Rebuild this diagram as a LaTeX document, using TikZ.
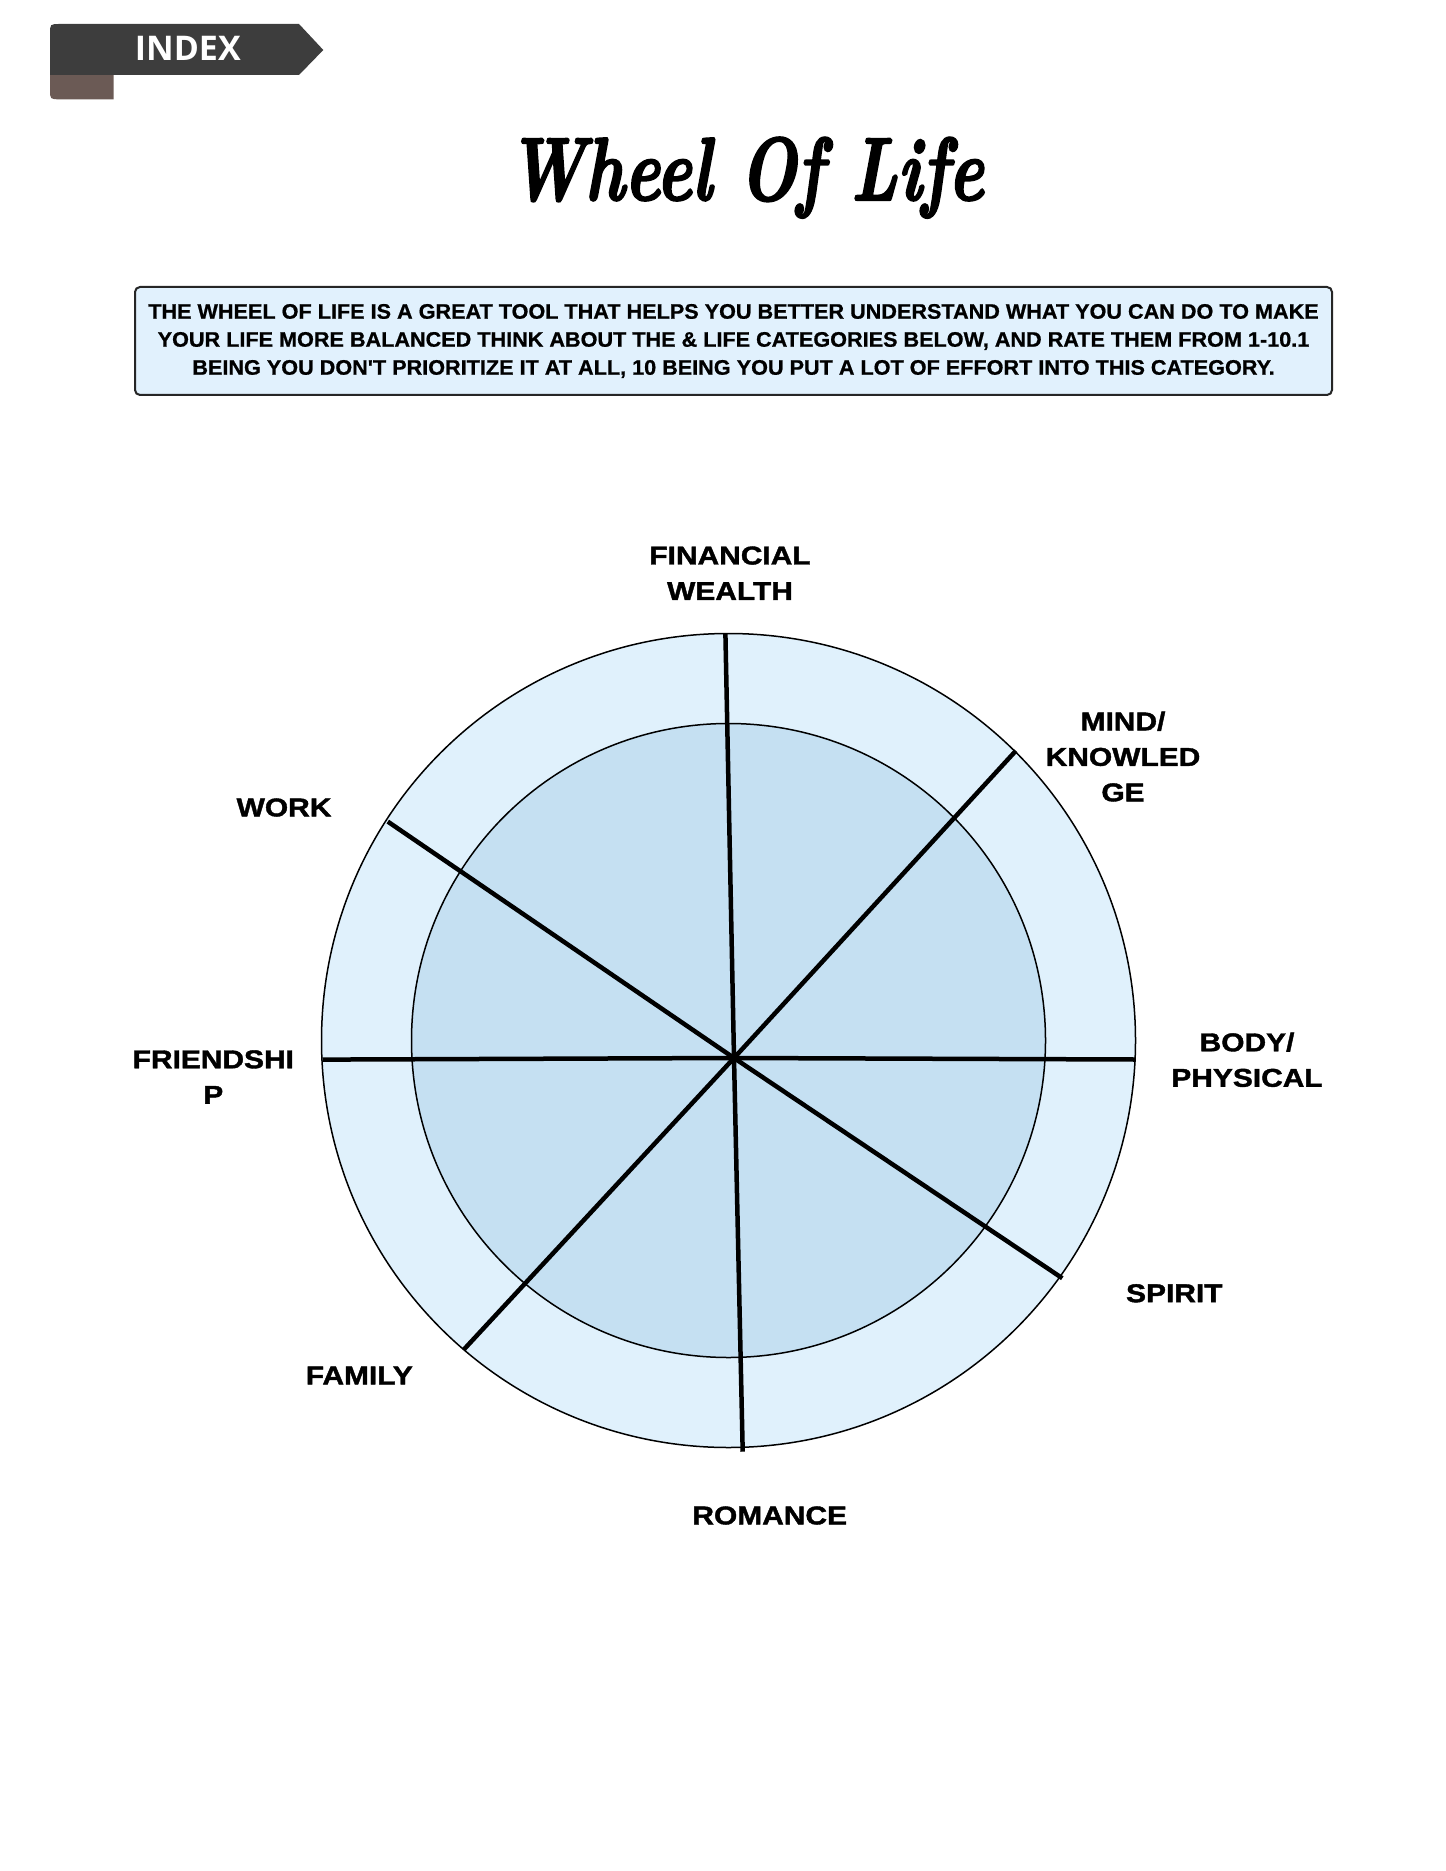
\documentclass[tikz,border=0pt]{standalone}
\usepackage{fontspec}
\usepackage{tikz}
\newfontfamily\catfont[FakeStretch=1.16, FakeBold=1.5]{Liberation Sans}
\newfontfamily\descfont[FakeStretch=1.03, FakeBold=0.8]{Liberation Sans}
\newfontfamily\tabfont{Open Sans}
\newfontfamily\titlefont[FakeBold=2.5]{Latin Modern Roman}
\definecolor{ringblue}{RGB}{224,241,252}
\definecolor{coreblue}{RGB}{197,224,242}
\definecolor{boxblue}{RGB}{225,241,253}
\definecolor{tabdark}{RGB}{61,61,61}
\definecolor{tabbrown}{RGB}{107,90,85}
\tikzstyle{cat}=[inner sep=0pt, align=center, font=\catfont\bfseries\fontsize{12.9pt}{17.75pt}\selectfont]
\tikzstyle{spoke}=[line width=2.25pt]
\tikzstyle{rim}=[draw=black, line width=0.75pt]

\begin{document}
\begin{tikzpicture}[x=0.5pt, y=-0.5pt]
            \useasboundingbox (0,0) rectangle (1445,1871);
            % index tab
            \fill[tabbrown] (50,75) -- (113.7,75) -- (113.7,99.3) -- (60,99.3) .. controls (50,99.3) .. (50,89.3) -- cycle;
            \fill[tabdark] (50,75) -- (50,34) .. controls (50,24) .. (60,24) -- (299,24) -- (323.3,50) -- (299,75) -- cycle;
            \node [text=white, inner sep=0pt, font=\tabfont\bfseries\fontsize{17pt}{17pt}\selectfont] (tab) at (187.8,48.8) {INDEX};
            % title and text box
            \node [anchor=base, inner sep=0pt, font=\titlefont\fontsize{44.6pt}{50pt}\selectfont\bfseries\itshape] (title) at (745.6,200) {\scalebox{0.75}[1]{Wheel Of Life}};
            \node [draw=black!85, line width=1pt, fill=boxblue, rounded corners=2.5pt, minimum width=598.5pt, minimum height=54pt, inner sep=0pt, align=center, font=\descfont\bfseries\fontsize{10.5pt}{14pt}\selectfont] (desc) at (733.5,341) {THE WHEEL OF LIFE IS A GREAT TOOL THAT HELPS YOU BETTER UNDERSTAND WHAT YOU CAN DO TO MAKE\\YOUR LIFE MORE BALANCED THINK ABOUT THE \& LIFE CATEGORIES BELOW, AND RATE THEM FROM 1-10.1\\BEING YOU DON'T PRIORITIZE IT AT ALL, 10 BEING YOU PUT A LOT OF EFFORT INTO THIS CATEGORY.};
            % wheel
            \coordinate (mid) at (728.5,1040.5);
            \filldraw [rim, fill=ringblue] (mid) circle [radius=203.5pt];
            \filldraw [rim, fill=coreblue] (mid) circle [radius=158.5pt];
            \coordinate (hub) at (734,1058);
            \coordinate (finEnd) at (725.4,633.7);
            \coordinate (mindEnd) at (1015.8,750.8);
            \coordinate (bodyEnd) at (1135.5,1059.5);
            \coordinate (spiritEnd) at (1062.3,1278.2);
            \coordinate (romEnd) at (742.7,1451.7);
            \coordinate (famEnd) at (463.6,1349.8);
            \coordinate (friendEnd) at (322.5,1059.6);
            \coordinate (workEnd) at (387.8,821.6);
            \path[spoke] (hub) edge (finEnd);
            \path[spoke] (hub) edge (mindEnd);
            \path[spoke] (hub) edge (bodyEnd);
            \path[spoke] (hub) edge (spiritEnd);
            \path[spoke] (hub) edge (romEnd);
            \path[spoke] (hub) edge (famEnd);
            \path[spoke] (hub) edge (friendEnd);
            \path[spoke] (hub) edge (workEnd);
            % categories
            \node [cat] (fin) at (730,573.2) {FINANCIAL\\WEALTH};
            \node [cat] (mind) at (1123,756.6) {MIND/\\KNOWLED\\GE};
            \node [cat] (body) at (1247,1059.8) {BODY/\\PHYSICAL};
            \node [cat] (spirit) at (1174.3,1293.3) {SPIRIT};
            \node [cat] (romance) at (769.7,1515.5) {ROMANCE};
            \node [cat] (family) at (359.3,1375.5) {FAMILY};
            \node [cat] (friend) at (213.3,1077) {FRIENDSHI\\P};
            \node [cat] (work) at (284,807.5) {WORK};
        \end{tikzpicture}
\end{document}
